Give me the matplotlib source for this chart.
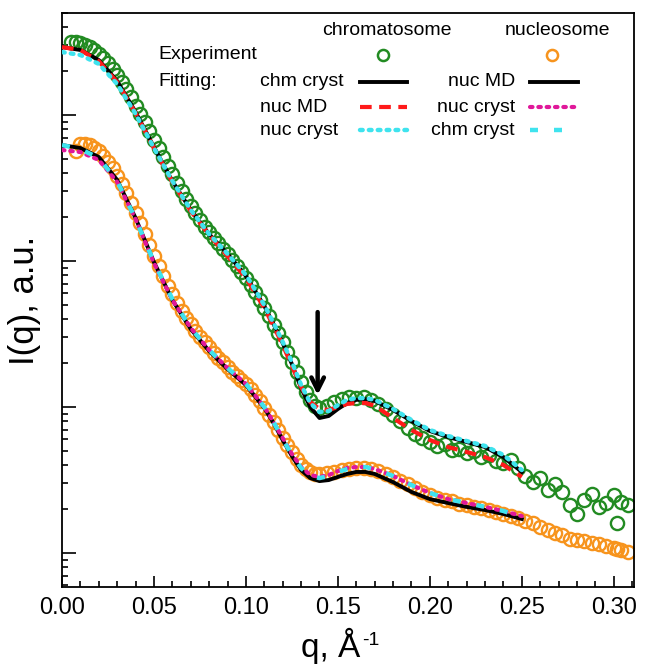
import matplotlib
matplotlib.use('Agg')
import matplotlib.pyplot as plt
from matplotlib.ticker import MultipleLocator, FormatStrFormatter, LogLocator, NullFormatter

# fonts: Arial-like text
plt.rcParams['font.family'] = ['Liberation Sans', 'DejaVu Sans']

# ---- experimental data (q in 1/A, I in a.u.) ----
q_exp = [0.005, 0.0075, 0.01, 0.0125, 0.015, 0.0175, 0.02, 0.0225, 0.025, 0.0275,
         0.03, 0.0325, 0.035, 0.0375, 0.04, 0.0425, 0.045, 0.0475, 0.05, 0.0525,
         0.055, 0.0575, 0.06, 0.0625, 0.065, 0.0675, 0.07, 0.0725, 0.075, 0.0775,
         0.08, 0.0825, 0.085, 0.0875, 0.09, 0.0925, 0.095, 0.0975, 0.1, 0.1025,
         0.105, 0.1075, 0.11, 0.1125, 0.115, 0.1175, 0.12, 0.1225, 0.125, 0.1275,
         0.13, 0.1325, 0.135, 0.1375, 0.14,
         0.144, 0.148, 0.152, 0.156, 0.16, 0.164, 0.168, 0.172, 0.176, 0.18,
         0.184, 0.188, 0.192, 0.196, 0.2, 0.204, 0.208, 0.212, 0.216, 0.22,
         0.224, 0.228, 0.232, 0.236, 0.24, 0.244, 0.248, 0.252, 0.256, 0.26,
         0.264, 0.268, 0.272, 0.276, 0.28, 0.284, 0.288, 0.292, 0.296, 0.3,
         0.302, 0.304, 0.308]

chm_exp = [3160, 3160, 3100, 3020, 2920, 2780, 2620, 2440, 2260, 2060,
           1870, 1690, 1500, 1320, 1160, 1020, 890, 775, 670, 590,
           515, 448, 392, 345, 302, 268, 238, 212, 191, 172,
           157, 144, 132, 121, 111, 102, 92.4, 84.1, 76.5, 68.5,
           61.3, 54.1, 47.6, 42.0, 36.4, 32.1, 27.9, 23.8, 20.3, 17.4,
           14.8, 12.7, 11.2, 10.2, 9.84,
           10.2, 10.8, 11.3, 11.7, 11.5, 11.7, 11.2, 10.5, 9.69, 8.81,
           8.02, 7.18, 6.53, 6.13, 5.76, 5.41, 5.58, 5.08, 5.16, 4.84,
           4.99, 4.54, 4.69, 4.27, 4.13, 4.34, 3.82, 3.37, 3.06, 3.26,
           2.70, 2.97, 2.62, 2.13, 1.85, 2.31, 2.54, 2.07, 2.20, 2.50,
           1.61, 2.24, 2.13]

# nucleosome starts one point later (q = 0.0075)
nuc_exp = [567, 630, 635, 620, 598, 565, 525, 480, 432,
           384, 336, 292, 251, 214, 181, 153, 129, 109, 92.5,
           78.5, 67.5, 59.0, 51.6, 45.8, 40.8, 37.0, 33.4, 30.3, 27.8,
           25.6, 23.5, 21.7, 20.2, 18.9, 17.4, 16.3, 15.3, 14.4, 13.3,
           12.1, 11.0, 9.84, 8.81, 7.89, 6.96, 6.13, 5.49, 4.92, 4.40,
           4.01, 3.76, 3.59, 3.48, 3.48,
           3.53, 3.59, 3.70, 3.76, 3.82, 3.82, 3.76, 3.64, 3.48, 3.32,
           3.11, 2.97, 2.79, 2.62, 2.50, 2.38, 2.31, 2.28, 2.17, 2.13,
           2.07, 2.02, 1.97, 1.91, 1.85, 1.79, 1.74, 1.66, 1.60, 1.51,
           1.44, 1.37, 1.33, 1.25, 1.23, 1.21, 1.17, 1.15, 1.12, 1.08,
           1.07, 1.05, 1.02]

# ---- model curves ----
q_fit = [0, 0.01, 0.02, 0.03, 0.04, 0.05, 0.06, 0.07, 0.08, 0.09, 0.10, 0.11,
         0.115, 0.12, 0.125, 0.13, 0.135, 0.14, 0.145, 0.15, 0.155, 0.16, 0.165, 0.17,
         0.18, 0.19, 0.20, 0.21, 0.22, 0.23, 0.24, 0.25]

# fits of the chromatosome curve
chm_fit_chm_cryst = [2920, 2790, 2380, 1710, 1050, 604, 353, 224, 153, 112, 78.9, 49.2,
                     37.0, 27.4, 19.7, 13.5, 10.0, 8.41, 8.68, 9.69, 10.65, 11.2, 11.3, 11.0,
                     9.54, 8.02, 6.85, 6.23, 5.76, 5.32, 4.54, 3.59]
chm_fit_nuc_md = [2920, 2790, 2340, 1680, 1030, 594, 348, 220, 151, 108, 76.5, 47.6,
                  35.9, 26.6, 19.1, 13.7, 10.8, 9.69, 9.54, 10.0, 10.5, 10.65, 10.65, 10.2,
                  8.41, 6.96, 5.94, 5.32, 4.92, 4.54, 4.01, 3.32]
chm_fit_nuc_cryst = [2700, 2580, 2240, 1630, 1020, 594, 353, 224, 153, 112, 80.2, 49.9,
                     37.6, 27.9, 20.3, 14.15, 10.65, 9.24, 9.39, 10.3, 11.2, 11.5, 11.5, 11.2,
                     9.69, 8.15, 6.96, 6.33, 5.85, 5.41, 4.69, 3.70]

# fits of the nucleosome curve
nuc_fit_nuc_md = [623, 594, 516, 359, 197, 98.4, 54.1, 34.2, 24.2, 18.2, 14.15, 9.84,
                  7.77, 5.94, 4.62, 3.70, 3.26, 3.11, 3.16, 3.32, 3.48, 3.59, 3.59, 3.48,
                  3.06, 2.62, 2.34, 2.20, 2.07, 1.97, 1.85, 1.71]
nuc_fit_nuc_cryst = [576, 558, 492, 348, 194, 96.9, 54.1, 34.8, 24.6, 18.5, 14.4, 10.0,
                     7.89, 6.13, 4.77, 3.88, 3.42, 3.32, 3.42, 3.64, 3.82, 3.88, 3.88, 3.76,
                     3.37, 2.92, 2.58, 2.34, 2.20, 2.07, 1.94, 1.79]
nuc_fit_chm_cryst = [623, 585, 508, 353, 194, 98.4, 54.9, 34.8, 24.6, 18.5, 14.4, 10.0,
                     7.89, 6.04, 4.69, 3.82, 3.37, 3.26, 3.37, 3.59, 3.76, 3.88, 3.88, 3.76,
                     3.37, 2.92, 2.58, 2.34, 2.20, 2.07, 1.94, 1.76]

# arrow marking the minimum
arrow_q = 0.139
arrow_from = 44.7
arrow_to = 12.1

GREEN = '#228b22'
ORANGE = '#f7941d'
RED = '#ff1a1a'
MAGENTA = '#e0189a'
CYAN = '#3fe3ee'

fig = plt.figure(figsize=(6.45, 6.68), dpi=100)
ax = fig.add_axes([62/645, 1 - 587/668, 572/645, 574/668])

# experiment
ax.plot(q_exp, chm_exp, 'o', mfc='none', mec=GREEN, ms=9.5, mew=1.7, zorder=2)
ax.plot(q_exp[1:], nuc_exp, 'o', mfc='none', mec=ORANGE, ms=9.5, mew=1.7, zorder=2)

# styles for the fits
s_black = dict(color='black', lw=2.8, ls='-')
s_red = dict(color=RED, lw=3.0, ls=(0, (2.8, 1.8)))
s_mag = dict(color=MAGENTA, lw=3.0, ls=(0, (0.6, 1.4)), dash_capstyle='round')
s_cyan_dot = dict(color=CYAN, lw=3.2, ls=(0, (0.6, 1.4)), dash_capstyle='round')
s_cyan_dash = dict(color=CYAN, lw=3.2, ls=(0, (1.8, 3.6)))

ax.plot(q_fit, chm_fit_chm_cryst, zorder=3, **s_black)
ax.plot(q_fit, chm_fit_nuc_md, zorder=4, **s_red)
ax.plot(q_fit, chm_fit_nuc_cryst, zorder=5, **s_cyan_dot)
ax.plot(q_fit, nuc_fit_nuc_md, zorder=3, **s_black)
ax.plot(q_fit, nuc_fit_nuc_cryst, zorder=4, **s_mag)
ax.plot(q_fit, nuc_fit_chm_cryst, zorder=5, **s_cyan_dash)

ax.annotate('', xy=(arrow_q, arrow_to), xytext=(arrow_q, arrow_from),
            arrowprops=dict(arrowstyle='->,head_length=0.9,head_width=0.45',
                            lw=3.2, color='black', shrinkA=0, shrinkB=0), zorder=6)

# axes
ax.set_yscale('log')
ax.set_xlim(0, 0.311)
ax.set_ylim(0.585, 5000)
ax.xaxis.set_major_locator(MultipleLocator(0.05))
ax.xaxis.set_minor_locator(MultipleLocator(0.01))
ax.xaxis.set_major_formatter(FormatStrFormatter('%.2f'))
ax.yaxis.set_major_locator(LogLocator(base=10))
ax.yaxis.set_minor_locator(LogLocator(base=10, subs=range(2, 10)))
ax.yaxis.set_major_formatter(NullFormatter())
ax.yaxis.set_minor_formatter(NullFormatter())
ax.tick_params(which='both', direction='in', top=False, right=False, width=1.2)
ax.tick_params(which='major', length=8, labelsize=17, pad=7)
ax.tick_params(axis='y', which='major', length=10)
ax.tick_params(which='minor', length=4)
for sp in ax.spines.values():
    sp.set_linewidth(1.3)

ax.set_xlabel('q, Å', fontsize=24)
ax.set_ylabel('I(q), a.u.', fontsize=25)
ax.xaxis.set_label_coords(0.47, -0.072)
ax.yaxis.set_label_coords(-0.036, 0.5)
# superscript "-1" after the x label
ax.annotate('-1', xy=(1, 1), xycoords=ax.xaxis.label, xytext=(1, -3),
            textcoords='offset points', fontsize=14, ha='left', va='top')

# hand-made legend
T = ax.transAxes
fs = 14
ax.text(0.568, 0.970, 'chromatosome', transform=T, fontsize=fs, ha='center', va='center')
ax.text(0.867, 0.970, 'nucleosome', transform=T, fontsize=fs, ha='center', va='center')
ax.text(0.168, 0.927, 'Experiment', transform=T, fontsize=fs, va='center')
ax.plot([0.561], [0.927], 'o', mfc='none', mec=GREEN, ms=8, mew=1.8, transform=T)
ax.plot([0.857], [0.927], 'o', mfc='none', mec=ORANGE, ms=8, mew=1.8, transform=T)
ax.text(0.168, 0.880, 'Fitting:', transform=T, fontsize=fs, va='center')

rows = [(0.880, 'chm cryst', s_black, 'nuc MD', s_black),
        (0.836, 'nuc MD', s_red, 'nuc cryst', s_mag),
        (0.796, 'nuc cryst', s_cyan_dot, 'chm cryst', s_cyan_dash)]
for y, lab1, st1, lab2, st2 in rows:
    ax.text(0.346, y, lab1, transform=T, fontsize=fs, va='center')
    ax.plot([0.521, 0.603], [y, y], transform=T, **st1)
    ax.text(0.792, y, lab2, transform=T, fontsize=fs, va='center', ha='right')
    ax.plot([0.818, 0.902], [y, y], transform=T, **st2)

fig.savefig('out.png', dpi=100)
